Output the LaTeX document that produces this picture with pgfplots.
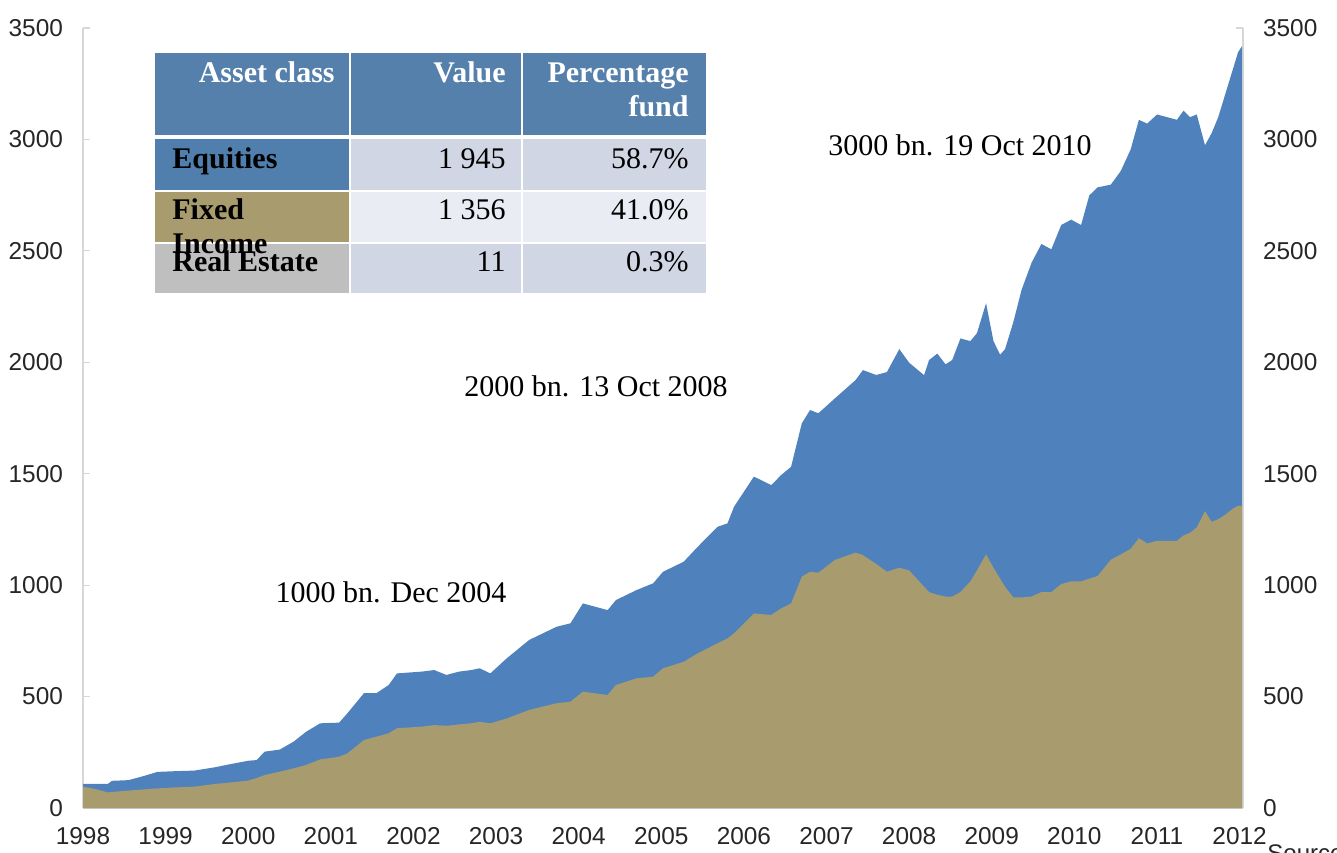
\documentclass[border=0pt]{standalone}
\usepackage{fontspec}
\setmainfont{Liberation Serif}
\newfontfamily\arial{Liberation Sans}
\usepackage{pgfplots}
\usepackage{pgfplotstable}
\pgfplotsset{compat=1.18}
\definecolor{areablue}{RGB}{79,129,189}
\definecolor{areatan}{RGB}{168,155,110}
\definecolor{hdrblue}{RGB}{84,128,171}
\definecolor{eqblue}{RGB}{80,127,174}
\definecolor{cellA}{RGB}{208,214,227}
\definecolor{cellB}{RGB}{233,236,242}
\definecolor{cellgray}{RGB}{191,191,191}
\definecolor{axgray}{RGB}{215,215,215}

\pgfplotstableread{
year fi total
1998.00 96 108
1998.15 85 108
1998.30 70 108
1998.35 72 122
1998.55 78 125
1998.75 84 145
1998.90 88 162
1999.10 92 165
1999.35 96 168
1999.60 108 183
1999.80 115 198
2000.00 123 212
2000.10 134 215
2000.20 148 253
2000.38 163 262
2000.55 178 298
2000.70 193 342
2000.87 218 380
2001.10 230 383
2001.20 245 425
2001.40 305 515
2001.55 320 515
2001.70 335 552
2001.80 358 604
2002.10 365 612
2002.25 372 619
2002.40 369 597
2002.55 375 612
2002.70 380 619
2002.80 387 627
2002.93 380 604
2003.13 402 672
2003.40 440 754
2003.73 470 813
2003.90 477 829
2004.05 522 918
2004.35 507 888
2004.45 552 933
2004.70 582 978
2004.90 589 1008
2005.02 627 1060
2005.27 656 1105
2005.44 694 1172
2005.68 739 1262
2005.80 761 1277
2005.88 784 1352
2006.12 873 1487
2006.33 866 1449
2006.45 896 1494
2006.57 918 1531
2006.70 1038 1726
2006.80 1060 1786
2006.90 1056 1771
2007.10 1113 1838
2007.35 1146 1920
2007.44 1135 1965
2007.60 1095 1943
2007.73 1060 1956
2007.88 1078 2059
2008.00 1066 1998
2008.18 993 1942
2008.24 969 2010
2008.34 957 2039
2008.44 949 1991
2008.52 949 2010
2008.62 969 2107
2008.74 1017 2095
2008.82 1066 2131
2008.93 1138 2265
2009.02 1078 2095
2009.10 1029 2034
2009.16 993 2059
2009.26 945 2180
2009.36 945 2325
2009.48 949 2446
2009.60 969 2531
2009.72 969 2507
2009.84 1005 2616
2009.96 1017 2640
2010.08 1017 2616
2010.18 1029 2749
2010.28 1041 2785
2010.44 1114 2797
2010.56 1138 2858
2010.68 1163 2955
2010.78 1211 3088
2010.88 1187 3071
2011.00 1199 3112
2011.24 1199 3088
2011.32 1223 3129
2011.40 1235 3100
2011.48 1259 3112
2011.58 1332 2974
2011.66 1284 3028
2011.74 1296 3100
2011.84 1320 3221
2011.92 1344 3318
2011.98 1356 3391
2012.03 1356 3420
}\datatable

\begin{document}
\begin{tikzpicture}
\useasboundingbox (0,0) rectangle (668.5pt,426pt);
% right axis (drawn first so the areas cover it)
\begin{axis}[
  at={(621.5pt,22pt)}, anchor=south east,
  scale only axis, width=580pt, height=390pt,
  xmin=1998, xmax=2012.04, ymin=0, ymax=3500,
  axis x line=none, axis y line*=right,
  ytick={0,500,...,3500},
  axis line style={axgray, line width=0.6pt},
  tick style={axgray, line width=0.6pt},
  tick align=inside, major tick length=3.5pt,
  /pgf/number format/.cd, 1000 sep={}, assume math mode=true, /pgfplots/.cd,
  yticklabel style={font=\arial\fontsize{12.2}{14}\selectfont, text=black!85, anchor=west, xshift=6.5pt},
]
\addplot[draw=none] coordinates {(1998,0)};
\end{axis}
% main axis
\begin{axis}[
  at={(41.5pt,22pt)}, anchor=south west,
  scale only axis, width=580pt, height=390pt,
  xmin=1998, xmax=2012.04, ymin=0, ymax=3500,
  axis x line*=bottom, axis y line*=left,
  xtick={1998,...,2012},
  ytick={0,500,...,3500},
  axis line style={axgray, line width=0.6pt},
  tick style={axgray, line width=0.6pt},
  tick align=inside, major tick length=3.5pt,
  /pgf/number format/.cd, 1000 sep={}, assume math mode=true, /pgfplots/.cd,
  yticklabel style={font=\arial\fontsize{12.2}{14}\selectfont, text=black!85, anchor=east, xshift=-6.5pt},
  xticklabel style={font=\arial\fontsize{12.2}{14}\selectfont, text=black!85, anchor=north, yshift=-6pt},
]
\addplot[fill=areablue, draw=none] table[x=year, y=total] {\datatable} \closedcycle;
\addplot[fill=areatan, draw=none] table[x=year, y=fi] {\datatable} \closedcycle;
\end{axis}
% table and annotations, in image pixel coordinates
\begin{scope}[x=0.5pt, y=-0.5pt, shift={(0pt,426pt)}, font=\fontsize{15}{18}\selectfont]
  \fill[hdrblue] (155,53) rectangle (349,135);
  \fill[hdrblue] (351,53) rectangle (521,135);
  \fill[hdrblue] (523,53) rectangle (706,135);
  \fill[eqblue] (155,139) rectangle (349,190);
  \fill[cellA] (351,139) rectangle (521,190);
  \fill[cellA] (523,139) rectangle (706,190);
  \fill[areatan] (155,192) rectangle (349,242);
  \fill[cellB] (351,192) rectangle (521,242);
  \fill[cellB] (523,192) rectangle (706,242);
  \fill[cellgray] (155,244) rectangle (349,293);
  \fill[cellA] (351,244) rectangle (521,293);
  \fill[cellA] (523,244) rectangle (706,293);
  \node[anchor=base east, inner sep=0, text=white, font=\fontsize{15}{18}\selectfont\bfseries] at (335,83) {Asset class};
  \node[anchor=base east, inner sep=0, text=white, font=\fontsize{15}{18}\selectfont\bfseries] at (506,83) {Value};
  \node[anchor=base east, inner sep=0, text=white, font=\fontsize{15}{18}\selectfont\bfseries] at (689,83) {Percentage};
  \node[anchor=base east, inner sep=0, text=white, font=\fontsize{15}{18}\selectfont\bfseries] at (689,117) {fund};
  \node[anchor=base west, inner sep=0, font=\fontsize{15}{18}\selectfont\bfseries] at (172,169) {Equities};
  \node[anchor=base east, inner sep=0] at (506,169) {1 945};
  \node[anchor=base east, inner sep=0] at (689,169) {58.7\%};
  \node[anchor=base west, inner sep=0, font=\fontsize{15}{18}\selectfont\bfseries] at (172,220) {Fixed};
  \node[anchor=base west, inner sep=0, font=\fontsize{15}{18}\selectfont\bfseries] at (172,254) {Income};
  \node[anchor=base east, inner sep=0] at (506,220) {1 356};
  \node[anchor=base east, inner sep=0] at (689,220) {41.0\%};
  \node[anchor=base west, inner sep=0, font=\fontsize{15}{18}\selectfont\bfseries] at (172,272) {Real Estate};
  \node[anchor=base east, inner sep=0] at (506,272) {11};
  \node[anchor=base east, inner sep=0] at (689,272) {0.3\%};
  \node[anchor=base, inner sep=0] at (391,602) {1000 bn. Dec 2004};
  \node[anchor=base, inner sep=0] at (596,397) {2000 bn. 13 Oct 2008};
  \node[anchor=base, inner sep=0] at (960,156) {3000 bn. 19 Oct 2010};
  \node[anchor=north west, inner sep=0, font=\arial\fontsize{12}{14}\selectfont, text=black!85] at (1267,844) {Source};
\end{scope}
\end{tikzpicture}
\end{document}
